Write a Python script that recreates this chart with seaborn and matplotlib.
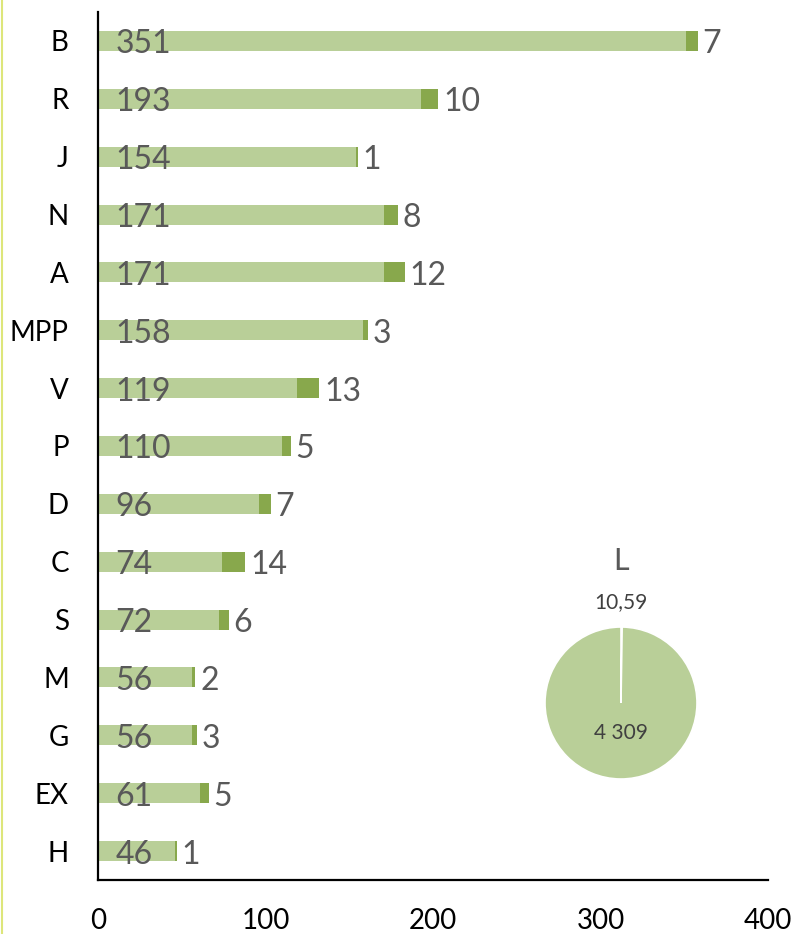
import matplotlib
matplotlib.use("Agg")
import matplotlib.pyplot as plt
from matplotlib.lines import Line2D
import seaborn as sns
import pandas as pd

categories = ['B', 'R', 'J', 'N', 'A', 'MPP', 'V', 'P', 'D', 'C', 'S', 'M', 'G', 'EX', 'H']
base_values = [351, 193, 154, 171, 171, 158, 119, 110, 96, 74, 72, 56, 56, 61, 46]
extra_values = [7, 10, 1, 8, 12, 3, 13, 5, 7, 14, 6, 2, 3, 5, 1]
x_ticks = [0, 100, 200, 300, 400]
pie_title = 'L'
pie_values = [10.59, 4309]

LIGHT = '#b9cf98'
DARK = '#88a84c'
GREY = '#595959'

sns.set_theme(style='white')
plt.rcParams['font.family'] = ['Lato', 'DejaVu Sans']

df = pd.DataFrame({'cat': categories, 'base': base_values, 'extra': extra_values})
df['total'] = df['base'] + df['extra']

fig = plt.figure(figsize=(7.96, 9.34), dpi=100)
ax = fig.add_axes([98 / 796, 54 / 934, 670 / 796, 868 / 934])

sns.barplot(data=df, x='total', y='cat', orient='h', color=DARK, saturation=1,
            width=0.345, ax=ax, errorbar=None, linewidth=0)
sns.barplot(data=df, x='base', y='cat', orient='h', color=LIGHT, saturation=1,
            width=0.345, ax=ax, errorbar=None, linewidth=0)

for i, (b, e, t) in enumerate(zip(df['base'], df['extra'], df['total'])):
    ax.annotate(str(b), xy=(0, i), xytext=(12.5, -2.5), textcoords='offset points',
                ha='left', va='center', fontsize=23, color=GREY)
    ax.annotate(str(e), xy=(t, i), xytext=(3.5, -2.5), textcoords='offset points',
                ha='left', va='center', fontsize=23, color=GREY)

ax.set_xlim(0, 400)
ax.set_xticks(x_ticks)
ax.set_xticklabels([str(v) for v in x_ticks])
ax.set_xlabel('')
ax.set_ylabel('')
for s in ['top', 'right']:
    ax.spines[s].set_visible(False)
for s in ['left', 'bottom']:
    ax.spines[s].set_color('black')
    ax.spines[s].set_linewidth(1.6)
ax.tick_params(axis='x', length=0, pad=20, labelsize=20, labelcolor='black')
ax.tick_params(axis='y', length=0, pad=21, labelsize=20, labelcolor='black')

# pie inset
pax = fig.add_axes([545 / 796, 155 / 934, 152 / 796, 152 / 934])
pax.pie(pie_values, colors=['white', LIGHT], startangle=90, counterclock=False,
        wedgeprops=dict(edgecolor='white', linewidth=1.2), radius=1)
pax.set_xlim(-1, 1)
pax.set_ylim(-1, 1)
pax.set_aspect('equal')
pax.axis('off')


def fmt(v):
    if float(v).is_integer():
        return f"{int(v):,}".replace(',', ' ')
    return f"{v:.2f}".replace('.', ',')


pax.text(0, 1.87, pie_title, ha='center', va='center', fontsize=22, color=GREY, clip_on=False)
pax.text(0, 1.33, fmt(pie_values[0]), ha='center', va='center', fontsize=15, color='#404040', clip_on=False)
pax.text(0, -0.40, fmt(pie_values[1]), ha='center', va='center', fontsize=15, color='#404040', clip_on=False)

fig.add_artist(Line2D([2 / 796, 2 / 796], [0, 1], color='#dde67a', lw=1.5, transform=fig.transFigure))

fig.savefig('out.png', dpi=100)
